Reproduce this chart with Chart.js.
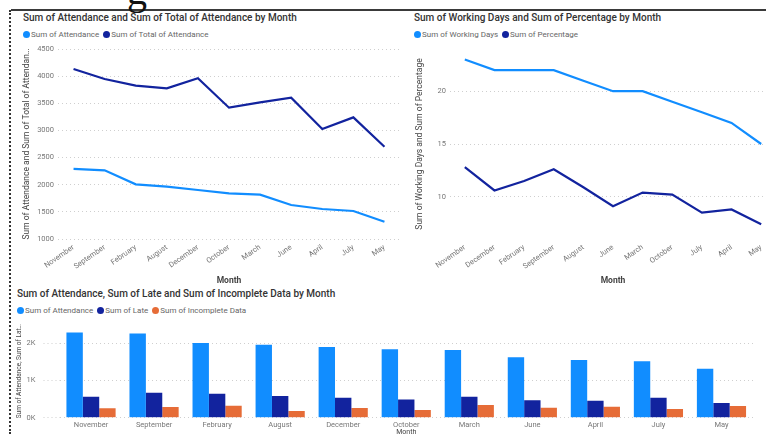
<!DOCTYPE html>
<html>
<head>
<meta charset="utf-8">
<script src="https://cdn.jsdelivr.net/npm/chart.js@4.4.1/dist/chart.umd.min.js"></script>
<style>
  html, body { margin: 0; padding: 0; width: 766px; height: 434px; overflow: hidden; background: #fff; font-family: Roboto, "Noto Sans", sans-serif; }
  .abs { position: absolute; }
  .glyph { left: 127px; top: -29px; font-family: "Liberation Serif", serif; font-size: 40px; line-height: 40px; color: #111; z-index: 6; }
  .title { font-size: 10px; font-weight: 500; color: #333; white-space: nowrap; line-height: 12px; }
  .legend { font-size: 8px; color: #666; white-space: nowrap; line-height: 10px; }
  .legend span.dot { display: inline-block; width: 7px; height: 7px; border-radius: 50%; vertical-align: -1px; margin-right: 1px; }
  .legend span.item { margin-right: 4px; }
  canvas { position: absolute; }
</style>
</head>
<body>
<div style="position:absolute; left:11px; top:9px; width:760px; height:2px; background:#3a3a3a; z-index:5;"></div>
<div style="position:absolute; left:9px; top:10px; width:0; height:424px; border-left:2px dotted #333; z-index:5;"></div>
<div class="abs glyph">g</div>

<div class="abs title" style="left:23px; top:12px;">Sum of Attendance and Sum of Total of Attendance by Month</div>
<div class="abs legend" id="legendA" style="left:23px; top:30px;"></div>

<div class="abs title" style="left:414px; top:12px;">Sum of Working Days and Sum of Percentage by Month</div>
<div class="abs legend" id="legendB" style="left:414px; top:30px;"></div>

<div class="abs title" style="left:17px; top:288px;">Sum of Attendance, Sum of Late and Sum of Incomplete Data by Month</div>
<div class="abs legend" id="legendC" style="left:17px; top:306px;"></div>

<div style="position:absolute; left:18px; top:40px; width:382px; height:250px;"><canvas id="chartA"></canvas></div>
<div style="position:absolute; left:411px; top:40px; width:365px; height:250px;"><canvas id="chartB"></canvas></div>
<div style="position:absolute; left:11px; top:320px; width:742px; height:120px;"><canvas id="chartC"></canvas></div>

<script>
// months as they appear on each chart's axis
const monthsA = ["November", "September", "February", "August", "December", "October", "March", "June", "April", "July", "May"]
const monthsB = ["November", "December", "February", "September", "August", "June", "March", "October", "July", "April", "May"]

// top left: attendance lines
const attendance = [2290, 2265, 2007, 1964, 1903, 1841, 1817, 1626, 1553, 1516, 1319]
const totalAttendance = [4132, 3947, 3824, 3776, 3960, 3419, 3518, 3603, 3026, 3241, 2700]

// top right: working days / percentage
const workingDays = [23, 22, 22, 22, 21, 20, 20, 19, 18, 17, 15]
const percentage = [12.8, 10.6, 11.5, 12.6, 10.9, 9.1, 10.4, 10.2, 8.5, 8.8, 7.4]

// bottom: bars (attendance reused, same month order as top left)
const late = [565, 672, 645, 583, 538, 490, 565, 468, 457, 538, 395]
const incomplete = [253, 288, 323, 180, 261, 207, 341, 269, 296, 234, 315]

// tick labels
const ticksA = [1000, 1500, 2000, 2500, 3000, 3500, 4000, 4500]
const ticksB = [10, 15, 20]
const ticksC = [0, 1000, 2000]

const LIGHT = "#118DFF"
const NAVY = "#12239E"
const ORANGE = "#E66C37"
const TICK = "#777"
const AXIS_TITLE = "#444"

Chart.defaults.font.family = "Roboto, 'Noto Sans', sans-serif"
Chart.defaults.animation = false

function legend(id, items) {
  document.getElementById(id).innerHTML = items.map(([label, color]) =>
    `<span class="item"><span class="dot" style="background:${color}"></span>${label}</span>`).join("")
}
legend("legendA", [["Sum of Attendance", LIGHT], ["Sum of Total of Attendance", NAVY]])
legend("legendB", [["Sum of Working Days", LIGHT], ["Sum of Percentage", NAVY]])
legend("legendC", [["Sum of Attendance", LIGHT], ["Sum of Late", NAVY], ["Sum of Incomplete Data", ORANGE]])

const fixWidth = w => scale => { scale.width = w; scale.paddingTop = 0; scale.paddingBottom = 0 }
const fixHeight = h => scale => { scale.height = h; scale.paddingLeft = 0; scale.paddingRight = 0 }
const useTicks = values => scale => { scale.ticks = values.map(v => ({ value: v })) }

function lineOptions(yMin, yMax, yTicks, yTitle, yWidth) {
  return {
    responsive: true,
    maintainAspectRatio: false,
    layout: { padding: { top: 9, right: 0, bottom: 0, left: 0 } },
    plugins: { legend: { display: false }, tooltip: { enabled: false } },
    elements: { point: { radius: 0 }, line: { borderWidth: 2.2, tension: 0 } },
    scales: {
      x: {
        offset: true,
        grid: { display: false, drawTicks: false },
        border: { display: false },
        ticks: { color: TICK, font: { size: 7.5 }, minRotation: 35, maxRotation: 35, padding: 4, autoSkip: false },
        title: { display: true, text: "Month", color: AXIS_TITLE, font: { size: 8.5, weight: "bold" }, padding: { top: 2, bottom: 4 } },
        afterFit: fixHeight(51)
      },
      y: {
        min: yMin,
        max: yMax,
        afterBuildTicks: useTicks(yTicks),
        grid: { color: "#cfcfcf", lineWidth: 1, drawTicks: false },
        border: { display: false, dash: [1, 3] },
        ticks: { color: TICK, font: { size: 7.5 }, padding: 4, callback: v => String(v) },
        title: { display: true, text: yTitle, color: AXIS_TITLE, font: { size: 8.5 }, padding: { top: 4, bottom: 4 } },
        afterFit: fixWidth(yWidth)
      }
    }
  }
}

new Chart(document.getElementById("chartA"), {
  type: "line",
  data: {
    labels: monthsA,
    datasets: [
      { label: "Sum of Attendance", data: attendance, borderColor: LIGHT, backgroundColor: LIGHT },
      { label: "Sum of Total of Attendance", data: totalAttendance, borderColor: NAVY, backgroundColor: NAVY }
    ]
  },
  options: lineOptions(1000, 4500, ticksA, "Sum of Attendance and Sum of Total of Attendan…", 40)
})

new Chart(document.getElementById("chartB"), {
  type: "line",
  data: {
    labels: monthsB,
    datasets: [
      { label: "Sum of Working Days", data: workingDays, borderColor: LIGHT, backgroundColor: LIGHT },
      { label: "Sum of Percentage", data: percentage, borderColor: NAVY, backgroundColor: NAVY }
    ]
  },
  options: lineOptions(6, 24, ticksB, "Sum of Working Days and Sum of Percentage", 39)
})

new Chart(document.getElementById("chartC"), {
  type: "bar",
  data: {
    labels: monthsA,
    datasets: [
      { label: "Sum of Attendance", data: attendance, backgroundColor: LIGHT },
      { label: "Sum of Late", data: late, backgroundColor: NAVY },
      { label: "Sum of Incomplete Data", data: incomplete, backgroundColor: ORANGE }
    ]
  },
  options: {
    responsive: true,
    maintainAspectRatio: false,
    layout: { padding: { top: 4.7, right: 0, bottom: 0, left: 0 } },
    plugins: { legend: { display: false }, tooltip: { enabled: false } },
    datasets: { bar: { categoryPercentage: 0.78, barPercentage: 1.0 } },
    scales: {
      x: {
        grid: { display: false, drawTicks: false },
        border: { display: false },
        ticks: { color: TICK, font: { size: 7.5 }, maxRotation: 0, padding: 3, autoSkip: false },
        title: { display: true, text: "Month", color: AXIS_TITLE, font: { size: 7 }, padding: { top: 0, bottom: 4 } },
        afterFit: fixHeight(22.3)
      },
      y: {
        min: 0,
        max: 2500,
        afterBuildTicks: useTicks(ticksC),
        grid: { color: "#cfcfcf", lineWidth: 1, drawTicks: true, tickLength: 16, tickColor: "#cfcfcf", tickBorderDash: [1, 3] },
        border: { display: false, dash: [1, 3] },
        ticks: { color: TICK, font: { size: 7.5 }, padding: 8, callback: v => (v / 1000) + "K" },
        title: { display: true, text: "Sum of Attendance, Sum of Lat…", color: AXIS_TITLE, font: { size: 6.5 }, padding: { top: 4, bottom: 4 } },
        afterFit: fixWidth(48.5)
      }
    }
  }
})
</script>
</body>
</html>
